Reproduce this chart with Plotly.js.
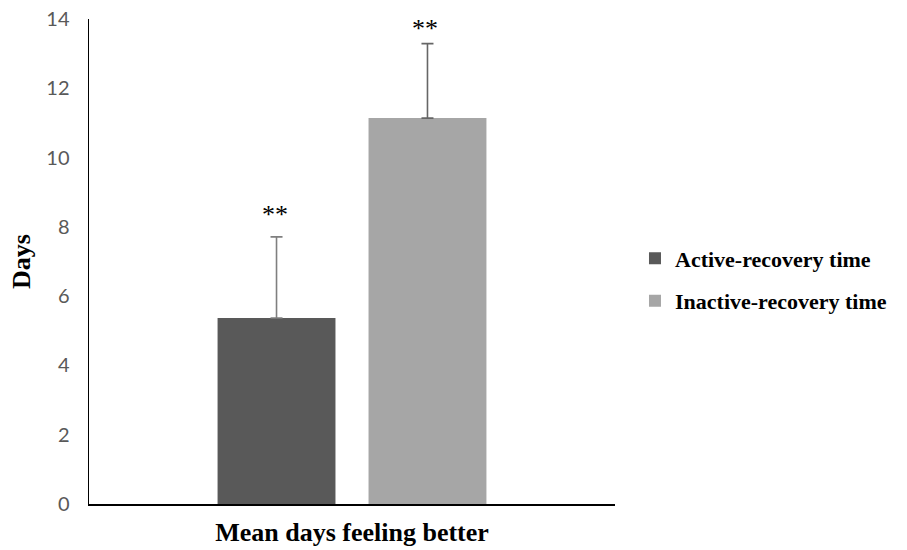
<!DOCTYPE html>
<html>
<head>
<meta charset="utf-8">
<script src="https://cdn.plot.ly/plotly-3.0.1.min.js"></script>
<style>html,body{margin:0;padding:0;background:#fff;}#chart{width:907px;height:550px;}</style>
</head>
<body>
<div id="chart"></div>
<script>
var categories = ["Mean days feeling better"];
var seriesNames = ["Active-recovery time", "Inactive-recovery time"];
var activeValues = [5.37];
var activeErrors = [2.34];
var inactiveValues = [11.14];
var inactiveErrors = [2.15];
var starLabels = ["**", "**"];
var yTickVals = [0, 2, 4, 6, 8, 10, 12, 14];

var bargap = 0.426, bargroupgap = 0.219;
var ml = 89, mr = 292, mt = 19, mb = 46;
var plotW = 907 - ml - mr;
var slot = plotW * (1 - bargap) / 2;
var serif = "Liberation Serif, Times New Roman, serif";

var traces = [
  {
    type: "bar", name: seriesNames[0], x: categories, y: activeValues,
    marker: {color: "#595959"}, legendgroup: "a",
    error_y: {type: "data", array: activeErrors, symmetric: false, arrayminus: [0], color: "#7f7f7f", thickness: 1.6, width: 6},
    hoverinfo: "none"
  },
  {
    type: "bar", name: seriesNames[1], x: categories, y: inactiveValues,
    marker: {color: "#a6a6a6"}, legendgroup: "b",
    error_y: {type: "data", array: inactiveErrors, symmetric: false, arrayminus: [0], color: "#666666", thickness: 1.6, width: 6},
    hoverinfo: "none"
  }
];

var tops = [activeValues[0] + activeErrors[0], inactiveValues[0] + inactiveErrors[0]];
var shifts = [-slot / 2, slot / 2];
var yshifts = [22, 15];
var annotations = starLabels.map(function (s, i) {
  return {
    x: categories[0], y: tops[i], xref: "x", yref: "y", text: s, showarrow: false,
    xshift: shifts[i] - 2, yshift: yshifts[i], yanchor: "middle",
    font: {family: serif, size: 26, color: "#000"}
  };
});

var layout = {
  width: 907, height: 550,
  margin: {l: ml, r: mr, t: mt, b: mb, pad: 0},
  paper_bgcolor: "#fff", plot_bgcolor: "#fff",
  barmode: "group", bargap: bargap, bargroupgap: bargroupgap,
  showlegend: true,
  legend: {
    x: 1.038, y: 0.462, xanchor: "left", yanchor: "middle",
    traceorder: "grouped", tracegroupgap: 11, itemwidth: 30,
    font: {family: serif, size: 22, color: "#000", weight: "bold"}
  },
  xaxis: {
    showline: true, linecolor: "#000", linewidth: 1.5, showgrid: false, zeroline: false,
    showticklabels: false, ticks: "", automargin: false,
    title: {text: "<b>Mean days feeling better</b>", standoff: 18,
      font: {family: serif, size: 26, color: "#000"}}
  },
  yaxis: {
    range: [0, 14], tickvals: yTickVals, showline: true, linecolor: "#000", linewidth: 1.5,
    showgrid: false, zeroline: false, ticks: "", ticklabelstandoff: 14, automargin: false,
    tickfont: {family: "Lato, Noto Sans, sans-serif", size: 20, color: "#595959"},
    title: {text: "<b>Days</b>", standoff: 8,
      font: {family: serif, size: 26, color: "#000"}}
  },
  annotations: annotations
};

Plotly.newPlot("chart", traces, layout, {displayModeBar: false, staticPlot: true});
</script>
</body>
</html>
